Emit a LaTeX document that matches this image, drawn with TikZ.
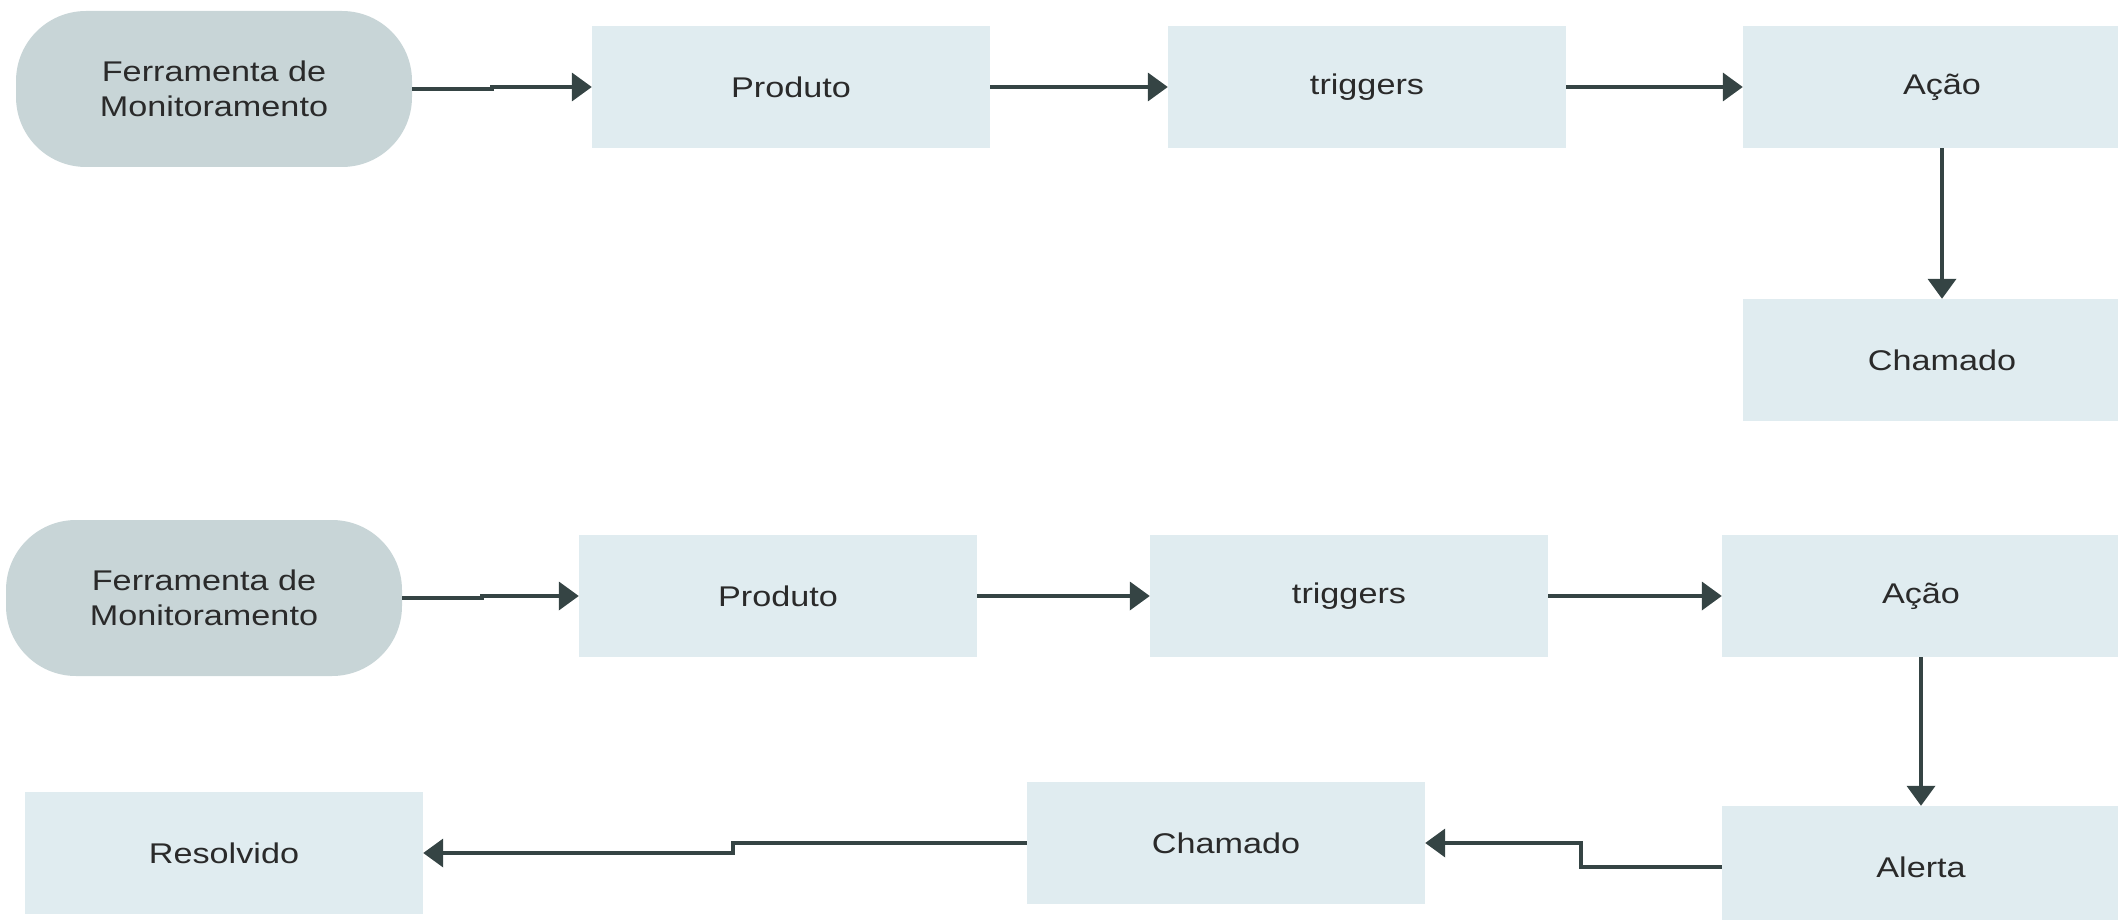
\documentclass[tikz,border=0pt]{standalone}
\usepackage{fontspec}
\setmainfont[FakeStretch=1.2]{Liberation Sans}
\usepackage{tikz}
\usetikzlibrary{arrows.meta,calc,positioning}
\definecolor{boxfill}{HTML}{E0ECF0}
\definecolor{termfill}{HTML}{C8D5D7}
\definecolor{linecol}{HTML}{354444}
\definecolor{txtcol}{HTML}{2A2A2A}
\tikzset{
	blk/.style={rectangle, fill=boxfill, minimum width=398pt, minimum height=122pt, inner sep=0pt, text=txtcol, font=\fontsize{28.5}{35}\selectfont},
	term/.style={rectangle, rounded corners=70pt, fill=termfill, minimum width=396pt, minimum height=156pt, inner sep=0pt, align=center, text=txtcol, font=\fontsize{28.5}{35}\selectfont},
	flow/.style={draw=linecol, line width=3.8pt, -{Triangle[length=20pt,width=28pt]}}
}
\begin{document}
\begin{tikzpicture}[x=1pt,y=-1pt]
			%\draw[step=100,black,very thin] (0,0) grid (2118,920);
			\useasboundingbox (0,0) rectangle (2118,920);
			\node[term] (fa) at (214,89) {Ferramenta de\\Monitoramento};
			\node[blk] (pa) at (791,87) {Produto};
			\node[blk] (ta) at (1367,87) {triggers};
			\node[blk] (aa) at (1942,87) {Ação};
			\node[blk] (ca) at (1942,360) {Chamado};
			\draw[flow] (fa.east) -- ++(80,0) |- (pa.west);
			\draw[flow] (pa) -- (ta);
			\draw[flow] (ta) -- (aa);
			\draw[flow] (aa) -- (ca);

			\node[term] (fb) at (204,598) {Ferramenta de\\Monitoramento};
			\node[blk] (pb) at (778,596) {Produto};
			\node[blk] (tb) at (1349,596) {triggers};
			\node[blk] (ab) at (1921,596) {Ação};
			\node[blk] (lb) at (1921,867) {Alerta};
			\node[blk] (cb) at (1226,843) {Chamado};
			\node[blk] (rb) at (224,853) {Resolvido};
			\draw[flow] (fb.east) -- ++(80,0) |- (pb.west);
			\draw[flow] (pb) -- (tb);
			\draw[flow] (tb) -- (ab);
			\draw[flow] (ab) -- (lb);
			\draw[flow] (lb.west) -- ++(-141,0) |- (cb.east);
			\draw[flow] (cb.west) -- ++(-294,0) |- (rb.east);
		\end{tikzpicture}
\end{document}
